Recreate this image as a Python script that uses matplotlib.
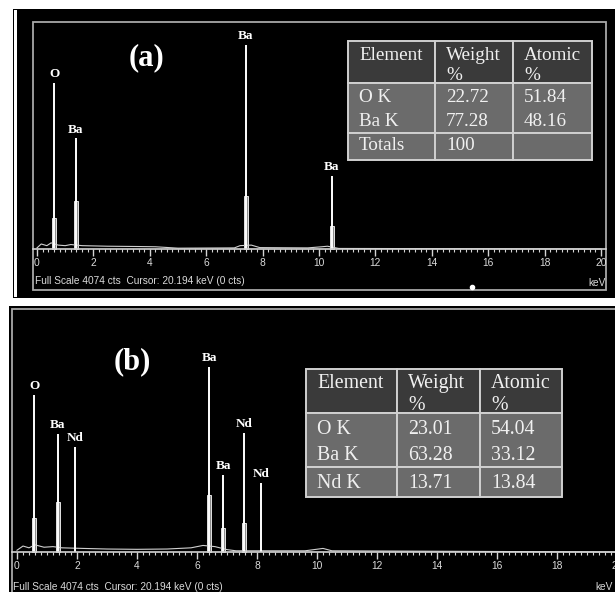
import matplotlib
matplotlib.use('Agg')
import matplotlib.pyplot as plt
from matplotlib.patches import Rectangle
from matplotlib.ticker import MultipleLocator

plt.rcParams['font.family'] = ['Liberation Sans', 'DejaVu Sans']

W, H = 615, 592
FULL_SCALE = 4074
SERIF = ['Liberation Serif', 'DejaVu Serif']

# (a) peaks: energy (keV), height (cts), height of the broad peak base (cts)
a_energy = [0.61, 1.38, 7.40, 10.45]
a_counts = [2975, 1985, 3660, 1315]
a_base = [560, 865, 955, 415]
a_labels = ['O', 'Ba', 'Ba', 'Ba']
a_bg_energy = [0.0, 0.15, 0.35, 0.5, 0.75, 1.0, 1.2, 1.6, 2.5, 3.5, 4.2, 5.0, 7.0, 7.2, 7.6, 7.9, 9.6, 10.1, 10.3, 10.7, 20.0]
a_bg_counts = [20, 90, 60, 110, 70, 60, 80, 60, 50, 45, 40, 15, 20, 60, 70, 25, 20, 40, 50, 10, 0]

a_rows = ['O K', 'Ba K']
a_weight = [22.72, 77.28]
a_atomic = [51.84, 48.16]
a_totals = ['Totals', '100', '']

# (b) peaks
b_energy = [0.58, 1.36, 1.94, 6.41, 6.88, 7.56, 8.13]
b_counts = [2633, 1979, 1761, 3102, 1291, 1996, 1157]
b_base = [570, 840, 0, 955, 400, 490, 0]
b_labels = ['O', 'Ba', 'Nd', 'Ba', 'Ba', 'Nd', 'Nd']
b_bg_energy = [0.0, 0.2, 0.4, 0.6, 0.9, 1.2, 1.5, 2.2, 3.0, 4.0, 5.0, 5.8, 6.2, 6.6, 7.0, 7.3, 9.6, 10.2, 10.5, 20.0]
b_bg_counts = [30, 100, 70, 120, 80, 90, 70, 60, 50, 45, 50, 70, 110, 90, 40, 20, 20, 60, 20, 0]

b_rows = ['O K', 'Ba K']
b_weight = [23.01, 63.28]
b_atomic = [54.04, 33.12]
b_last = ['Nd K', '13.71', '13.84']

header = ['Element', 'Weight\n%', 'Atomic\n%']

fig = plt.figure(figsize=(W / 100, H / 100), dpi=100)
fig.patch.set_facecolor('white')


def px_axes(left, top, right, bottom):
    return fig.add_axes([left / W, 1 - bottom / H, (right - left) / W, (bottom - top) / H])


# background layer in pixel coordinates
bg = px_axes(0, 0, W, H)
bg.set_xlim(0, W)
bg.set_ylim(H, 0)
bg.axis('off')
bg.add_patch(Rectangle((12.7, 8.5), W - 12.7, 289, fc='black', ec='none'))
bg.add_patch(Rectangle((14.3, 10), 2.4, 287, fc='white', ec='none'))
bg.add_patch(Rectangle((9, 306), W - 9, H - 306, fc='black', ec='none'))


def spectrum(box, x0, kev_px, base_px, energy, counts, base, labels, bg_e, bg_c):
    left, top, right, bottom = box
    cts_px = FULL_SCALE / (base_px - top)
    ax = px_axes(*box)
    ax.set_xlim((left - x0) / kev_px, (right - x0) / kev_px)
    ax.set_ylim(-(bottom - base_px) * cts_px, (base_px - top) * cts_px)
    ax.patch.set_visible(False)
    for s in ['left', 'right', 'top']:
        ax.spines[s].set_visible(False)
    ax.spines['bottom'].set_position(('data', 0))
    ax.spines['bottom'].set_color('#d4d4d4')
    ax.spines['bottom'].set_linewidth(1.2)
    ax.add_patch(Rectangle((0, 0), 1, 1, transform=ax.transAxes, fill=False,
                           ec='#a8a8a8', lw=1.3, clip_on=False))
    ax.set_yticks([])
    ax.xaxis.set_major_locator(MultipleLocator(2))
    ax.xaxis.set_minor_locator(MultipleLocator(0.2))
    ax.tick_params(axis='x', which='major', direction='out', length=5, width=1,
                   color='#d4d4d4', labelsize=7.4, labelcolor='#dadada', pad=1.5)
    ax.tick_params(axis='x', which='minor', direction='out', length=2.5, width=0.8,
                   color='#d4d4d4')

    ax.plot(bg_e, bg_c, color='#d0d0d0', lw=0.8)
    bars = [(e, b) for e, b in zip(energy, base) if b > 0]
    ax.bar([e for e, _ in bars], [b for _, b in bars], width=0.13,
           color='#8c8c8c', edgecolor='#e2e2e2', lw=0.7)
    ax.vlines(energy, 0, counts, color='white', lw=1.4)
    for e, c, lbl in zip(energy, counts, labels):
        ax.annotate(lbl, (e, c), xytext=(0, 2), textcoords='offset points',
                    ha='center', va='bottom', family=SERIF, fontsize=9.5,
                    fontweight='bold', color='white')
    return ax


spectrum((33, 22, 606, 290), 37, 28.2, 249, a_energy, a_counts, a_base, a_labels,
         a_bg_energy, a_bg_counts)
spectrum((12, 309, 640, 620), 17, 30.0, 552, b_energy, b_counts, b_base, b_labels,
         b_bg_energy, b_bg_counts)

# text and tables on top, pixel coordinates
fg = px_axes(0, 0, W, H)
fg.set_xlim(0, W)
fg.set_ylim(H, 0)
fg.axis('off')

status = 'Full Scale 4074 cts  Cursor: 20.194 keV (0 cts)'
fg.text(35, 281, status, fontsize=7.3, color='#dadada', va='center')
fg.text(606, 283, 'keV', fontsize=7.3, color='#dadada', va='center', ha='right')
fg.text(13, 587, status, fontsize=7.3, color='#dadada', va='center')
fg.text(613, 587, 'keV', fontsize=7.3, color='#dadada', va='center', ha='right')
fg.plot([472], [287], 'o', color='white', ms=3)

fg.text(146, 58, '(a)', family=SERIF, fontsize=22, fontweight='bold',
        color='white', ha='center', va='center')
fg.text(132, 362, '(b)', family=SERIF, fontsize=22, fontweight='bold',
        color='white', ha='center', va='center')


def table(xs, ys, blocks, first, line_h, fs):
    fills = ['#3a3a3a'] + ['#6b6b6b'] * (len(ys) - 2)
    for i, block in enumerate(blocks):
        for j in range(3):
            fg.add_patch(Rectangle((xs[j], ys[i]), xs[j + 1] - xs[j], ys[i + 1] - ys[i],
                                   fc=fills[i], ec='#d0d0d0', lw=1.4))
            cells = [row[j] for row in block]
            for k, txt in enumerate(cells):
                fg.text(xs[j] + 11, ys[i] + first[i] + k * line_h[i], txt,
                        family=SERIF, fontsize=fs, color='#f0f0f0', va='baseline')


head_lines = [[h.split('\n')[0] for h in header], [h.split('\n')[1] if '\n' in h else '' for h in header]]

a_block = [[r, f'{w:.2f}', f'{t:.2f}'] for r, w, t in zip(a_rows, a_weight, a_atomic)]
table([348, 435, 513, 592], [41, 83, 133, 160],
      [head_lines, a_block, [a_totals]], [19, 19, 17], [20, 24, 0], 13.8)

b_block = [[r, f'{w:.2f}', f'{t:.2f}'] for r, w, t in zip(b_rows, b_weight, b_atomic)]
table([306, 397, 480, 562], [369, 413, 467, 497],
      [head_lines, b_block, [b_last]], [19, 21, 21], [22, 26, 0], 14.3)

fig.savefig('out.png', dpi=100, facecolor='white')
